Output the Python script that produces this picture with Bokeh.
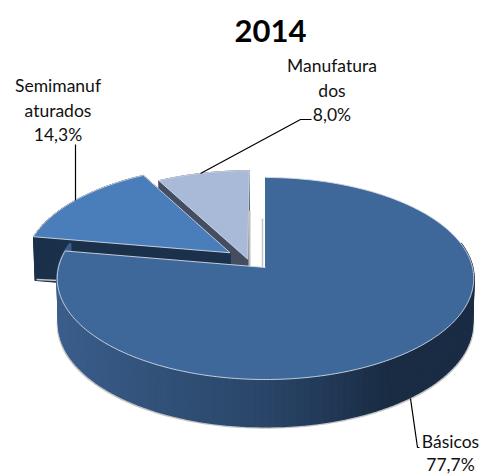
import numpy as np
from bokeh.plotting import figure
from bokeh.models import Range1d, ColumnDataSource
from bokeh.embed import file_html
from bokeh.resources import INLINE
from bokeh.core.properties import value

# ---- data ----
title = "2014"
categories = ["Básicos", "Semimanufaturados", "Manufaturados"]
shares = [77.7, 14.3, 8.0]
label_lines = [["Básicos"], ["Semimanuf", "aturados"], ["Manufatura", "dos"]]

# ---- style / layout ----
top_colors = ["#3e6899", "#4a7ebb", "#a9b9d8"]
side_colors = [None, "#1b304a", "#454e60"]
explode = [(0.0, 0.0), (-0.174, 0.15), (-0.087, 0.085)]
CX, CY, R, K, B = 265.0, 267.0, 207.0, 0.109, 99.8
FONT = "Lato"

W, H = 483, 475
X0, Y0 = 0, 0
p = figure(width=W, height=H, x_range=Range1d(X0, X0 + W), y_range=Range1d(Y0 + H, Y0),
           output_backend="svg", toolbar_location=None, min_border=0,
           outline_line_color=None, background_fill_color="white", border_fill_color="white")
p.xaxis.visible = False
p.yaxis.visible = False
p.grid.visible = False


def top(u, v):
    """Perspective projection of the disc plane onto the page."""
    w = 1 + K * v
    return CX + R * u / w, CY - B * v / w


def bottom(u, v):
    x, y = top(u, v)
    return CX + (x - CX) * 0.993, y + 44.5 - 2.5 * v


def mix(a, b, t):
    ca = [int(a[i:i + 2], 16) for i in (1, 3, 5)]
    cb = [int(b[i:i + 2], 16) for i in (1, 3, 5)]
    return "#%02x%02x%02x" % tuple(int(round(x + (y - x) * t)) for x, y in zip(ca, cb))


def side_color(u):
    if u < 0:
        return mix("#2a4669", "#3b5f8d", min(1, -u))
    return mix("#2a4669", "#1a2c44", min(1, u / 0.55))


# cumulative angles, clockwise from 12 o'clock
edges = np.concatenate([[0], np.cumsum(shares)]) / sum(shares) * 2 * np.pi
slices = []
for i in range(len(shares)):
    th = np.linspace(edges[i], edges[i + 1], max(8, int((edges[i + 1] - edges[i]) * 60)))
    du, dv = explode[i]
    u = np.concatenate([[du], np.sin(th) + du])
    v = np.concatenate([[dv], np.cos(th) + dv])
    slices.append((u, v, th, du, dv))


def draw_solid_slice(i):
    u, v, th, du, dv = slices[i]
    bx, by = bottom(u, v)
    tx, ty = top(u, v)
    xs, ys = [], []
    n = len(u)
    for a in range(n):
        b = (a + 1) % n
        xs.append([tx[a], tx[b], bx[b], bx[a]])
        ys.append([ty[a], ty[b], by[b], by[a]])
    p.patches(xs, ys, fill_color=side_colors[i], line_color=side_colors[i], line_width=1)
    p.patch(tx, ty, fill_color=top_colors[i], line_color="#d3dae6", line_width=0.9)


# manufactured and semi-manufactured slices, back to front
draw_solid_slice(2)
draw_solid_slice(1)

# soft shadows next to the gap
p.line([249, 249], [210, 266], line_color="#bdbdbd", line_width=2)
p.line([262, 262], [218, 268], line_color="#c4c4c4", line_width=1.5)
p.line([36, 58], [279, 280], line_color="#c6c6c6", line_width=1.5)

# main slice: outer wall with horizontal gradient
u, v, th, _, _ = slices[0]
vis = np.linspace(np.pi * 0.42, np.pi * 1.58, 120)
vu, vv = np.sin(vis), np.cos(vis)
sx, sy = bottom(vu, vv)
p.line(sx + np.sign(vu) * 1.0, sy + 1.2, line_color="#c4c4c4", line_width=2.0)

tx, ty = top(vu, vv)
# band order runs from the bright left to the dark right, each band overlapping the next
order = np.argsort(-np.arange(len(vu) - 1))
src = ColumnDataSource(dict(
    xs=[[tx[i], tx[i + 1], sx[i + 1], sx[i]] for i in order],
    ys=[[ty[i], ty[i + 1], sy[i + 1], sy[i]] for i in order],
    c=[side_color(vu[i]) for i in order],
))
p.patches("xs", "ys", source=src, fill_color="c", line_color="c", line_width=2)

mx, my = top(u, v)
p.patch(mx, my, fill_color=top_colors[0], line_color="#d3dae6", line_width=0.9)
p.line(mx[[0, 1]], my[[0, 1]], line_color=top_colors[0], line_width=1)

# leader lines
p.line([75, 75], [144, 200], line_color="black", line_width=1.2)
p.line([311, 300, 200], [119, 119, 173], line_color="black", line_width=1.2)
p.line([410, 417, 419], [398, 447, 447], line_color="black", line_width=1.2)


def pct(x):
    return f"{x:.1f}".replace(".", ",") + "%"


label_pos = [(450, 441, 22.5), (57.5, 85, 24.7), (331.5, 65, 24.7)]
for i, lines in enumerate(label_lines):
    x0, y0, dy = label_pos[i]
    for j, t in enumerate(lines + [pct(shares[i])]):
        p.text([x0], [y0 + j * dy], text=[t], text_font=value(FONT), text_font_size="17.5px",
               text_align="center", text_baseline="middle", text_color="#111111")

p.text([270], [30], text=[title], text_font=value(FONT), text_font_size="31px",
       text_font_style="bold", text_align="center", text_baseline="middle", text_color="#000000")

open("out.html", "w").write(file_html(p, INLINE))
